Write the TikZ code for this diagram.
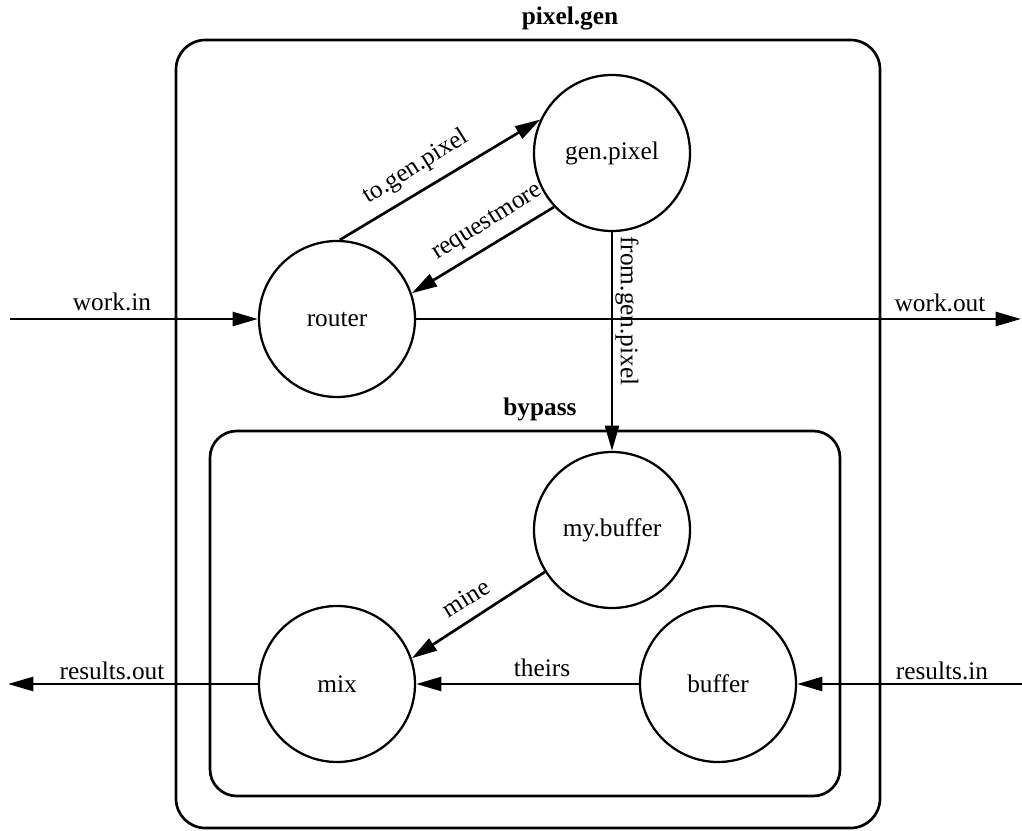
\documentclass[tikz,border=0pt]{standalone}
\usepackage{fontspec}
\setmainfont{Liberation Serif}
\usetikzlibrary{arrows.meta}
\begin{document}
\begin{tikzpicture}[x=0.75pt,y=-0.75pt,
  every node/.style={font=\fontsize{19}{21}\selectfont},
  proc/.style={draw,circle,line width=1.7pt,minimum size=117pt,inner sep=0pt},
  chan/.style={line width=2pt,-{Triangle[length=19pt,width=10.5pt]}},
  frame/.style={draw,line width=2pt},
  title/.style={font=\fontsize{19}{21}\selectfont\bfseries},
  lbl/.style={inner sep=1pt}]
  \useasboundingbox (0,0) rectangle (1022,831);

  % enclosing process boxes
  \draw[frame,rounded corners=22pt] (176,40) rectangle (880,828);
  \node[title] (tpix) at (570,19) {pixel.gen};
  \draw[frame,rounded corners=20pt] (210,431) rectangle (840,796);
  \node[title] (tbyp) at (540,409) {bypass};

  % processes
  \node[proc] (router) at (337,319) {router};
  \node[proc] (gen)    at (612,153) {gen.pixel};
  \node[proc] (mybuf)  at (612,530) {my.buffer};
  \node[proc] (mix)    at (337,684) {mix};
  \node[proc] (buf)    at (718,684) {buffer};

  % external ends
  \coordinate (win)  at (10,319);
  \coordinate (wout) at (1021,319);
  \coordinate (rout) at (8,684);
  \coordinate (rin)  at (1022,684);

  % channels
  \draw[chan] (win) -- (router.west);
  \draw[chan] (router.east) -- (wout);
  \draw[chan] (router.88) -- (gen.155);
  \draw[chan] (gen.223) -- (router.19);
  \draw[chan] (gen.south) -- (mybuf.north);
  \draw[chan] (mybuf.212) -- (mix.19);
  \draw[chan] (buf.west) -- (mix.east);
  \draw[chan] (mix.west) -- (rout);
  \draw[chan] (rin) -- (buf.east);

  % channel names
  \node[lbl] (lwin)  at (112,302) {work.in};
  \node[lbl] (lwout) at (940,303) {work.out};
  \node[lbl,rotate=32] (lto) at (416,167) {to.gen.pixel};
  \node[lbl,rotate=32] (lreq) at (488,223) {requestmore};
  \node[lbl,rotate=-90] (lfrom) at (627,311) {from.gen.pixel};
  \node[lbl,rotate=32] (lmine) at (466,598) {mine};
  \node[lbl] (ltheirs) at (542,668) {theirs};
  \node[lbl] (lrout) at (112,671) {results.out};
  \node[lbl] (lrin)  at (942,671) {results.in};
\end{tikzpicture}
\end{document}
